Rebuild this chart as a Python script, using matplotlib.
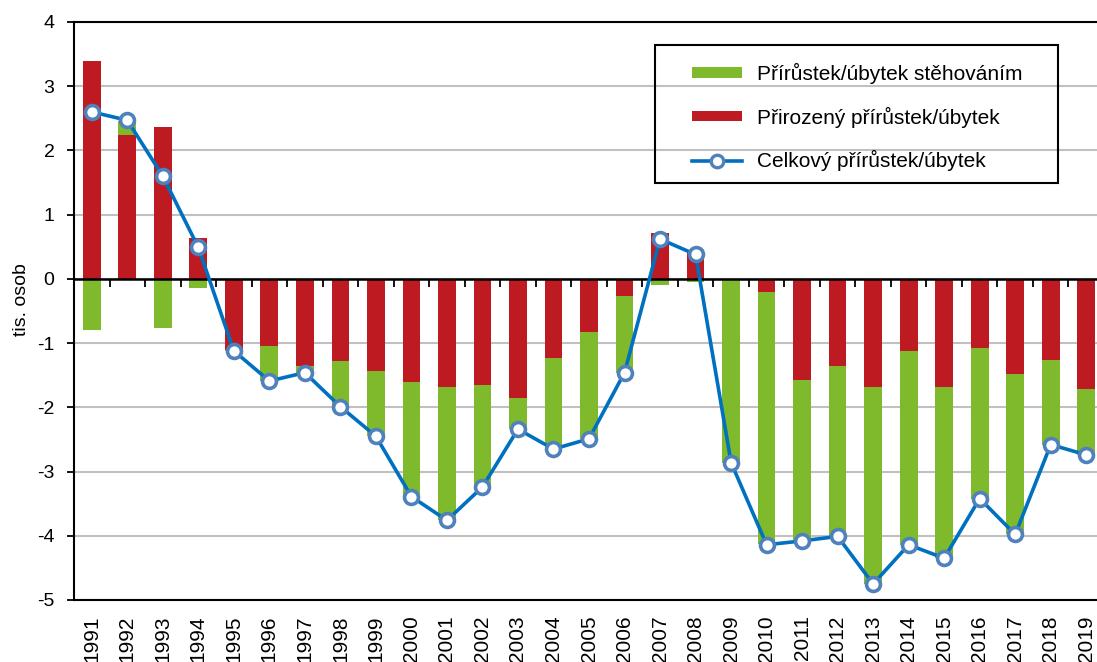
import numpy as np
import matplotlib
matplotlib.use("Agg")
import matplotlib.pyplot as plt
from matplotlib.patches import Patch, Rectangle
from matplotlib.lines import Line2D

plt.rcParams['font.family'] = ['Liberation Sans', 'DejaVu Sans']
plt.rcParams['axes.unicode_minus'] = False

years = [str(y) for y in range(1991, 2020)]

# prirozeny prirustek/ubytek (tis. osob)
natural = [3.39, 2.24, 2.37, 0.63, -1.10, -1.04, -1.35, -1.28, -1.44, -1.60,
           -1.69, -1.66, -1.85, -1.23, -0.82, -0.26, 0.71, 0.43, 0.00, -0.20,
           -1.57, -1.35, -1.69, -1.13, -1.69, -1.07, -1.48, -1.26, -1.72]
# prirustek/ubytek stehovanim
migration = [-0.79, 0.22, -0.76, -0.14, -0.03, -0.55, -0.12, -0.71, -1.01, -1.79,
             -2.07, -1.58, -0.49, -1.42, -1.68, -1.21, -0.09, -0.05, -2.87, -3.93,
             -2.50, -2.66, -3.06, -3.01, -2.66, -2.35, -2.50, -1.32, -1.02]
# celkovy prirustek/ubytek
total = [2.60, 2.47, 1.60, 0.49, -1.12, -1.59, -1.46, -1.99, -2.45, -3.39,
         -3.76, -3.24, -2.34, -2.65, -2.49, -1.46, 0.62, 0.38, -2.86, -4.14,
         -4.08, -4.01, -4.75, -4.14, -4.35, -3.42, -3.98, -2.58, -2.74]

GREEN = '#7fba2c'
RED = '#be1a22'
LINE = '#0070c0'
MEDGE = '#4f81bd'

W, H = 1097, 662
fig = plt.figure(figsize=(W / 100, H / 100), dpi=100)
ax = fig.add_axes([74 / W, 1 - 600 / H, (1104 - 74) / W, (600 - 22) / H])

x = np.arange(len(years))
nat = np.array(natural)
mig = np.array(migration)
green_bottom = np.where(np.sign(mig) == np.sign(nat), nat, 0.0)

ax.bar(x, nat, width=0.5, color=RED, zorder=3)
ax.bar(x, mig, width=0.5, bottom=green_bottom, color=GREEN, zorder=3)
ax.plot(x, total, color=LINE, lw=2.6, marker='o', markersize=10,
        markerfacecolor='white', markeredgecolor=MEDGE, markeredgewidth=2.6,
        zorder=5)

ax.set_xlim(-0.5, len(years) - 0.5)
ax.set_ylim(-5, 4)
ax.set_yticks(range(-5, 5))
ax.yaxis.grid(True, color='#c0c0c0', lw=1.5, zorder=0)
ax.set_axisbelow(True)
ax.axhline(0, color='black', lw=1.8, zorder=4)

ax.set_xticks(x)
ax.set_xticklabels(years, rotation=90, fontsize=15)
ax.tick_params(axis='x', length=0, pad=11)
ax.tick_params(axis='y', length=5, width=1.3, pad=9, labelsize=14, direction='out')

for s in ['left', 'top', 'bottom']:
    ax.spines[s].set_linewidth(1.5)
    ax.spines[s].set_color('black')
ax.spines['right'].set_visible(False)

# tick marks between the bars on the zero axis
sec = ax.secondary_xaxis(5 / 9)
sec.set_xticks(np.arange(len(years) + 1) - 0.5)
sec.set_xticklabels([])
sec.tick_params(axis='x', direction='in', length=6, width=1.3, color='black')
for s in sec.spines.values():
    s.set_visible(False)

ax.set_ylabel('tis. osob', fontsize=14, va='center')
ax.yaxis.set_label_coords((21 - 74) / 1030, (600 - 300) / 578)

handles = [
    Patch(facecolor=GREEN, label='Přírůstek/úbytek stěhováním'),
    Patch(facecolor=RED, label='Přirozený přírůstek/úbytek'),
    Line2D([0], [0], color=LINE, lw=2.6, marker='o', markersize=9,
           markerfacecolor='white', markeredgecolor=MEDGE, markeredgewidth=2.4,
           label='Celkový přírůstek/úbytek'),
]
leg = fig.legend(handles=handles, loc='upper left',
                 bbox_to_anchor=(692 / W, 1 - 63 / H), fontsize=15,
                 frameon=False, handlelength=2.4, handleheight=0.4,
                 handletextpad=0.7, labelspacing=1.08, borderpad=0,
                 borderaxespad=0)
fig.patches.append(Rectangle((655 / W, 1 - 183 / H), (1058 - 655) / W,
                             (183 - 45) / H, transform=fig.transFigure,
                             fill=False, edgecolor='black', lw=1.5, zorder=6))

fig.savefig('out.png', dpi=100)
